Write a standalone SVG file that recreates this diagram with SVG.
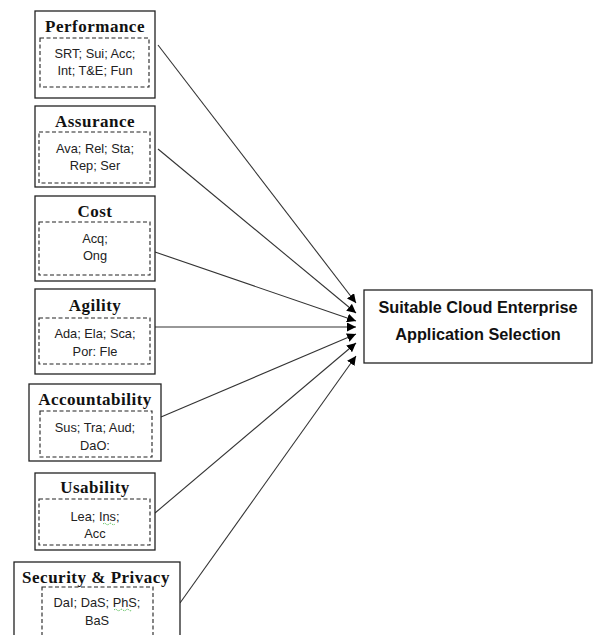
<svg xmlns="http://www.w3.org/2000/svg" width="593" height="635" viewBox="0 0 593 635">
<style>
.box{fill:#fff;stroke:#222;stroke-width:1.3}
.dash{fill:none;stroke:#222;stroke-width:1.1;stroke-dasharray:4 2.5}
.title{font-family:"Liberation Serif","Times New Roman",serif;font-weight:bold;font-size:17px;fill:#111;text-anchor:middle;letter-spacing:0.5px}
.body{font-family:"Liberation Sans",Arial,sans-serif;font-size:12.8px;fill:#222;text-anchor:middle}
.main{font-family:"Liberation Sans",Arial,sans-serif;font-weight:bold;font-size:16.3px;fill:#111;text-anchor:middle}
.conn{stroke:#333;stroke-width:1.1;fill:none;marker-end:url(#ah)}
.sq{fill:none;stroke:#2a2;stroke-width:0.9;stroke-dasharray:1 1}
</style>
<defs>
<marker id="ah" viewBox="0 0 10 10" refX="10" refY="5" markerWidth="9" markerHeight="9" markerUnits="userSpaceOnUse" orient="auto">
<path d="M0,0 L10,5 L0,10 z" fill="#000"/>
</marker>
</defs>
<g id="connectors">
<line class="conn" x1="158" y1="45" x2="356" y2="303"/>
<line class="conn" x1="158" y1="149" x2="356" y2="313"/>
<line class="conn" x1="155" y1="252" x2="356" y2="321"/>
<line class="conn" x1="155" y1="327" x2="356" y2="327"/>
<line class="conn" x1="161" y1="417" x2="356" y2="334"/>
<line class="conn" x1="155" y1="513" x2="356" y2="343"/>
<line class="conn" x1="180" y1="603" x2="356" y2="356"/>
</g>
<g id="performance">
<rect class="box" x="35" y="11" width="120" height="87"/>
<rect class="dash" x="40" y="38" width="109" height="49"/>
<text class="title" x="95" y="32">Performance</text>
<text class="body" x="95" y="58">SRT; Sui; Acc;</text>
<text class="body" x="95" y="75">Int; T&amp;E; Fun</text>
</g>
<g id="assurance">
<rect class="box" x="35" y="106" width="120" height="81"/>
<rect class="dash" x="39" y="132" width="111" height="51"/>
<text class="title" x="95" y="127">Assurance</text>
<text class="body" x="95" y="153">Ava; Rel; Sta;</text>
<text class="body" x="95" y="170">Rep; Ser</text>
</g>
<g id="cost">
<rect class="box" x="35" y="196" width="120" height="85"/>
<rect class="dash" x="39" y="222" width="111" height="53"/>
<text class="title" x="95" y="217">Cost</text>
<text class="body" x="95" y="243">Acq;</text>
<text class="body" x="95" y="260">Ong</text>
</g>
<g id="agility">
<rect class="box" x="35" y="289" width="120" height="85"/>
<rect class="dash" x="39" y="318" width="111" height="46"/>
<text class="title" x="95" y="311">Agility</text>
<text class="body" x="95" y="338">Ada; Ela; Sca;</text>
<text class="body" x="95" y="356">Por: Fle</text>
</g>
<g id="accountability">
<rect class="box" x="29" y="384" width="132" height="77"/>
<rect class="dash" x="40" y="411" width="112" height="46"/>
<text class="title" x="95" y="405">Accountability</text>
<text class="body" x="95" y="432">Sus; Tra; Aud;</text>
<text class="body" x="95" y="450">DaO:</text>
</g>
<g id="usability">
<rect class="box" x="35" y="473" width="120" height="77"/>
<rect class="dash" x="39" y="499" width="111" height="46"/>
<text class="title" x="95" y="493">Usability</text>
<text class="body" x="95" y="521">Lea; Ins;</text>
<path class="sq" d="M103,524 q1.5,-1.5 3,0 t3,0 t3,0 t3,0"/>
<text class="body" x="95" y="538">Acc</text>
</g>
<g id="security-privacy">
<rect class="box" x="14" y="562" width="166" height="80"/>
<rect class="dash" x="42" y="587" width="111" height="50"/>
<text class="title" x="96" y="583">Security &amp; Privacy</text>
<text class="body" x="97" y="607">DaI; DaS; PhS;</text>
<path class="sq" d="M114,610 q1.5,-1.5 3,0 t3,0 t3,0 t3,0 t3,0 t3,0"/>
<text class="body" x="97" y="625">BaS</text>
</g>
<g id="selection">
<rect class="box" x="364" y="290" width="228" height="73"/>
<text class="main" x="478" y="313">Suitable Cloud Enterprise</text>
<text class="main" x="478" y="340">Application Selection</text>
</g>
</svg>
